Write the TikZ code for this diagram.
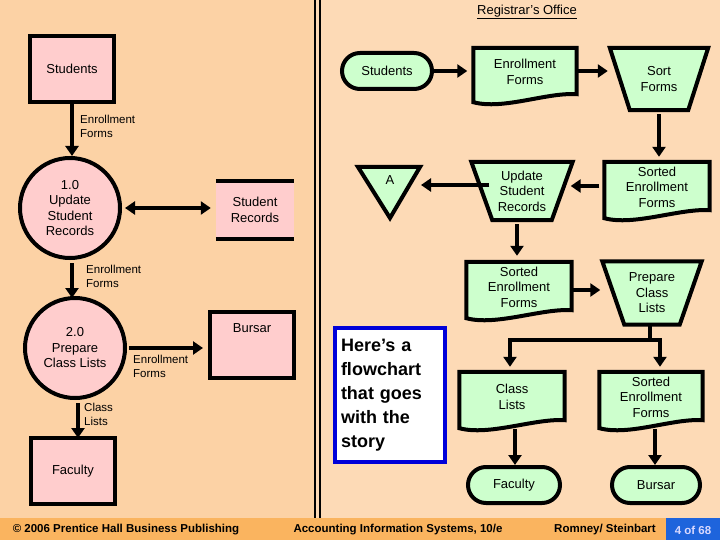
\documentclass[tikz,border=0pt]{standalone}
\usepackage{fontspec}
\setmainfont{Liberation Sans}
\usetikzlibrary{arrows.meta,backgrounds}
\definecolor{bgL}{RGB}{252,210,165}
\definecolor{bgR}{RGB}{253,218,182}
\definecolor{foot}{RGB}{250,180,95}
\definecolor{pinkf}{RGB}{255,205,205}
\definecolor{mint}{RGB}{205,255,205}
\definecolor{pgblue}{RGB}{30,100,220}
\newcommand\nf{\fontsize{13}{15.5}\selectfont}
\newcommand\lf{\fontsize{11.5}{14}\selectfont}
\tikzset{
  thk/.style={line width=4pt},
  arr/.style={line width=4pt,-{Triangle[width=13pt,length=10pt]}},
  darr/.style={line width=4pt,{Triangle[width=13pt,length=10pt]}-{Triangle[width=13pt,length=10pt]}},
  ent/.style={draw,thk,fill=pinkf,minimum width=84pt,minimum height=66pt,align=center,font=\nf},
  proc/.style={draw,thk,circle,fill=pinkf,minimum size=100pt,align=center,font=\nf,inner sep=0pt},
  lbl/.style={font=\lf,align=left,inner sep=0pt,anchor=west},
  box/.style={minimum width=#1,align=center,font=\nf,inner sep=0pt},
  term/.style={draw,thk,fill=mint,rounded corners=18pt,minimum height=36pt,align=center,font=\nf},
}
\newcommand\mkdoc[1]{\begin{pgfonlayer}{background}\draw[thk,fill=mint] (#1.north west) -- (#1.north east) -- ([yshift=2pt]#1.south east) .. controls ([xshift=-30pt,yshift=4pt]#1.south east) and ([xshift=30pt,yshift=-14pt]#1.south west) .. ([yshift=-6pt]#1.south west) -- cycle;\end{pgfonlayer}}
\newcommand\mktrap[2]{\begin{pgfonlayer}{background}\draw[thk,fill=mint] (#1.north west) -- (#1.north east) -- ([xshift=-#2]#1.south east) -- ([xshift=#2]#1.south west) -- cycle;\end{pgfonlayer}}
\begin{document}
\begin{tikzpicture}[x=1pt,y=-1pt]
\useasboundingbox (0,0) rectangle (720,540);
\begin{pgfonlayer}{background}
\fill[bgL] (0,0) rectangle (316,518);
\fill[bgR] (316,0) rectangle (720,518);
\fill[foot] (0,518) rectangle (720,540);
\fill[pgblue] (666,518) rectangle (720,540);
\draw[line width=1.2pt] (315,0) -- (315,518) (320,0) -- (320,518);
\end{pgfonlayer}
% left DFD
\node[ent] (s) at (72,69) {Students};
\node[proc] (p1) at (70,208) {1.0\\Update\\Student\\Records};
\draw[arr] (s.south) ++(0,-3) -- ([xshift=2pt]p1.north);
\node[lbl] (l1) at (80,126) {Enrollment\\Forms};
\node[fill=pinkf,minimum width=78pt,minimum height=58pt,align=center,font=\nf] (sr) at (255,210) {Student\\Records};
\draw[thk] (sr.north west) -- (sr.north east) (sr.south west) -- (sr.south east);
\draw[darr] (p1.east) ++(3,0) -- ([xshift=-5pt]sr.west |- p1.east);
\node[proc] (p2) at (75,348) {2.0\\Prepare\\Class Lists};
\draw[arr] ([xshift=2pt,yshift=-3pt]p1.south) -- ([xshift=2pt,yshift=-2pt]p1.south |- p2.north);
\node[lbl] (l2) at (86,276) {Enrollment\\Forms};
\node[ent] (b) at (252,345) {};
\node[font=\nf] (bt) at (252,345) [yshift=17pt] {Bursar};
\draw[arr] (p2.east) ++(2,0) -- ([xshift=-5pt]b.west |- p2.east);
\node[lbl] (l3) at (133,366) {Enrollment\\Forms};
\node[ent] (f) at (73,471) {};
\node[font=\nf] (ft) at (73,471) {Faculty};
\draw[arr] (p2.south) ++(3,3) -- ([xshift=5pt,yshift=-2pt]f.north);
\node[lbl] (l4) at (84,414) {Class\\Lists};
% right flowchart
\node[font=\nf] (title) at (527,12) {\underline{Registrar’s Office}};
\node[term,minimum width=90pt] (t1) at (387,71) {Students};
\node[box=103pt,minimum height=48pt] (d1) at (525,72) {Enrollment\\Forms}; \mkdoc{d1}
\node[box=98pt,minimum height=62pt] (z1) at (659,79) {Sort\\Forms}; \mktrap{z1}{20pt}
\draw[arr] (t1.east) -- ([xshift=-6pt]d1.west |- t1.east);
\draw[arr] (d1.east |- t1.east) -- ([xshift=-2pt]z1.west |- t1.east);
\node[box=105pt,minimum height=50pt] (d2) at (657,187) {Sorted\\Enrollment\\Forms}; \mkdoc{d2}
\draw[arr] (z1.south) ++(0,4) -- ([yshift=5pt]z1.south |- d2.north);
\node[box=101pt,minimum height=58pt] (z2) at (522,191) {Update\\Student\\Records}; \mktrap{z2}{21pt}
\draw[arr] ([xshift=-5pt]d2.west |- 0,186) -- ([xshift=-2pt]z2.east |- 0,186);
\draw[thk,fill=mint] (358,167) -- (420,167) -- (390,218) -- cycle;
\node[font=\nf] (a) at (390,180) {A};
\draw[arr] ([xshift=18pt]z2.west |- 0,185) -- (421,185);
\node[box=105pt,minimum height=50pt] (d3) at (519,287) {Sorted\\Enrollment\\Forms}; \mkdoc{d3}
\draw[arr] ([xshift=-5pt,yshift=-4pt]z2.south) -- ([xshift=-5pt,yshift=6pt]z2.south |- d3.north);
\node[box=99pt,minimum height=63pt] (z3) at (652,293) {Prepare\\Class\\Lists}; \mktrap{z3}{22pt}
\draw[arr] (d3.east |- 0,290) -- ([xshift=-2pt]z3.west |- 0,290);
\node[box=105pt,minimum height=50pt] (d4) at (512,397) {Class\\Lists}; \mkdoc{d4}
\node[box=103pt,minimum height=50pt] (d5) at (651,397) {Sorted\\Enrollment\\Forms}; \mkdoc{d5}
\coordinate (j) at (650,340);
\draw[thk] (z3.south) ++(-2,0) -- (j);
\draw[arr] (j) -| ([xshift=-2pt,yshift=5pt]d4.north);
\draw[arr] (j) -| ([xshift=9pt,yshift=5pt]d5.north);
\node[term,minimum width=92pt] (t2) at (514,485) {Faculty};
\node[term,minimum width=88pt] (t3) at (656,485) {Bursar};
\draw[arr] ([xshift=3pt,yshift=-7pt]d4.south) -- ([xshift=3pt]d4.south |- t2.north);
\draw[arr] ([xshift=4pt,yshift=-7pt]d5.south) -- ([xshift=4pt]d5.south |- t3.north);
\node[draw=blue!85!black,line width=4pt,fill=white,minimum width=110pt,minimum height=134pt,text width=98pt,align=left,font=\fontsize{18}{24}\selectfont\bfseries,inner sep=4pt] (story) at (390,395) {Here’s a flowchart that goes with the story};
% footer
\node[font=\lf\bfseries] (c1) at (126,530) {© 2006 Prentice Hall Business Publishing};
\node[font=\lf\bfseries] (c2) at (398,530) {Accounting Information Systems, 10/e};
\node[font=\lf\bfseries] (c3) at (605,530) {Romney/ Steinbart};
\node[font=\lf\bfseries,text=white!85!blue] (c4) at (693,530) {4 of 68};
\end{tikzpicture}
\end{document}
